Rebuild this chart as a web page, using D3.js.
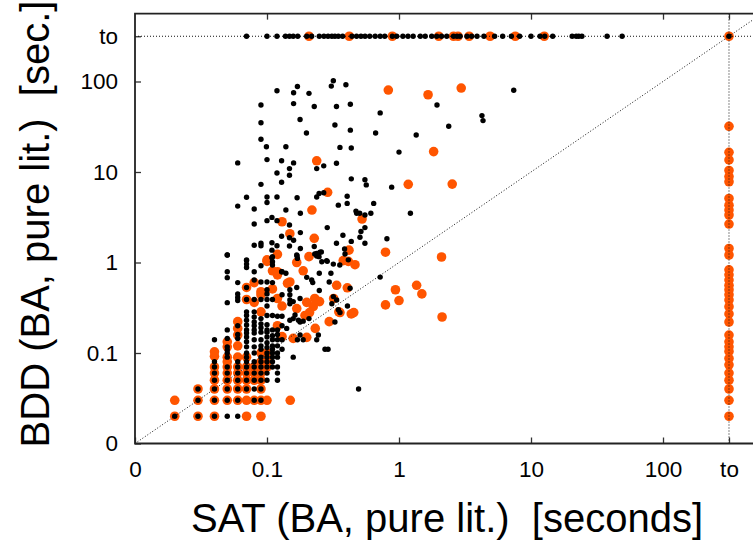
<!DOCTYPE html>
<html>
<head>
<meta charset="utf-8">
<script src="https://cdnjs.cloudflare.com/ajax/libs/d3/7.8.5/d3.min.js"></script>
<style>
body { margin: 0; background: #fff; overflow: hidden; }
text { font-family: "Liberation Sans", Arial, sans-serif; fill: #000; white-space: pre; }
</style>
</head>
<body>
<div id="chart"></div>
<script>
// time-out is plotted at 10^2.5, "0" at 0.01
const timeout = 316.2;
const tickValues = [0.01, 0.1, 1, 10, 100, timeout];
const tickLabels = ['0', '0.1', '1', '10', '100', 'to'];

// solver times are rounded to 0.01s so the fast runs sit on a grid
const gridSat = [0.02, 0.03, 0.04, 0.05, 0.06, 0.07, 0.08, 0.09, 0.1, 0.11, 0.12, 0.13];
const gridBlackBdd = [
    [0.02],
    [0.02, 0.03, 0.04],
    [0.02, 0.03, 0.04, 0.05, 0.06, 0.07, 0.08, 0.14],
    [0.02, 0.03, 0.04, 0.05, 0.06, 0.07, 0.09, 0.1, 0.108, 0.117, 0.145, 0.18, 0.36, 0.68, 0.79, 1.21],
    [0.02, 0.03, 0.04, 0.05, 0.06, 0.07, 0.08, 0.145, 0.16, 0.2, 0.38, 0.41, 0.45, 0.6],
    [0.04, 0.05, 0.06, 0.07, 0.08, 0.09, 0.1, 0.117, 0.133, 0.15, 0.166, 0.18, 0.204, 0.23, 0.26, 0.285, 0.39, 0.53, 0.88, 0.96, 1.07],
    [0.03, 0.04, 0.05, 0.06, 0.07, 0.08, 0.1, 0.117, 0.14, 0.166, 0.18, 0.2, 0.22, 0.25, 0.285, 0.39, 0.64, 0.79],
    [0.03, 0.04, 0.05, 0.06, 0.07, 0.08, 0.09, 0.11, 0.12, 0.14, 0.17, 0.19, 0.21, 0.24, 0.39, 0.61, 0.92],
    [0.05, 0.06, 0.07, 0.08, 0.09, 0.1, 0.115, 0.13, 0.15, 0.17, 0.18, 0.205, 0.26, 0.33, 0.39, 0.45, 0.5, 0.61],
    [0.07, 0.08, 0.09, 0.1, 0.11, 0.12, 0.14, 0.155, 0.18, 0.26, 0.39, 0.6, 0.94, 1.02, 1.16],
    [0.05, 0.06, 0.07, 0.09, 0.1, 0.12, 0.14, 0.16, 0.18, 0.255],
    [0.11, 0.14, 0.2, 0.255, 0.44, 0.79]
];
const gridOrangeBdd = [
    [0.02, 0.03],
    [0.02, 0.03, 0.04],
    [0.02, 0.03, 0.04, 0.05, 0.06, 0.07, 0.092, 0.103],
    [0.03, 0.04, 0.05, 0.06, 0.07, 0.08, 0.09, 0.117, 0.133],
    [0.03, 0.04, 0.05, 0.06, 0.07, 0.09, 0.12, 0.158, 0.187, 0.222],
    [0.02, 0.03, 0.04, 0.05, 0.06, 0.07, 0.09, 0.39, 0.53],
    [0.03, 0.05, 0.06, 0.07, 0.363, 0.6],
    [0.02, 0.03, 0.04, 0.05, 0.06, 0.07, 0.08, 0.1, 0.285, 0.44, 0.475],
    [0.03, 0.07, 0.08, 0.1, 1.03, 1.07],
    [0.51, 0.81],
    [0.2, 0.4, 0.73, 0.79, 1.23],
    [0.152, 0.33, 2.82]
];

const blackPoints = [
    [0.318, 102], [0.17, 88], [0.307, 89], [0.396, 92], [0.119, 79], [0.159, 75], [0.208, 74], [0.09, 55], [0.159, 57],
    [0.228, 53], [0.336, 53], [0.428, 56], [0.72, 45], [0.09, 35], [0.178, 38], [0.327, 33], [0.199, 27], [0.428, 29],
    [0.665, 27], [0.09, 23], [0.099, 19], [0.139, 19], [0.357, 18.7], [0.435, 18.4], [1.0, 16.6], [0.06, 12.6],
    [0.1, 13.7], [0.129, 13.3], [0.159, 12.6], [0.336, 12.5], [0.238, 10.9], [0.269, 11.7], [0.148, 10.9], [0.119, 9.75],
    [0.148, 9.2], [0.129, 7.7], [0.09, 7.3], [0.435, 8.4], [0.552, 8.2], [0.565, 7.2], [0.88, 6.8], [0.07, 5.25],
    [0.1, 5.3], [0.119, 5.3], [0.169, 5.2], [0.238, 5.3], [0.248, 5.8], [0.269, 5.9], [0.405, 5.4], [0.1, 4.6],
    [0.06, 4.2], [0.08, 3.9], [0.139, 3.8], [0.405, 4.5], [0.347, 4.3], [0.643, 4.5], [0.179, 3.5], [0.472, 3.7],
    [0.478, 3.5], [0.504, 3.5], [0.552, 3.35], [0.612, 3.5], [0.109, 3.15], [0.1, 2.9], [0.119, 2.9], [0.08, 2.66],
    [0.148, 2.6], [0.286, 2.43], [0.552, 2.43], [0.515, 2.2], [0.179, 2.14], [0.129, 1.95], [0.376, 2.0], [0.148, 1.88],
    [0.159, 1.76], [0.506, 1.9], [0.81, 1.83], [0.08, 1.55], [0.09, 1.63], [0.09, 1.53], [0.109, 1.65], [0.119, 1.53],
    [0.148, 1.52], [0.179, 1.43], [0.228, 1.5], [0.336, 1.63], [0.435, 1.71], [0.552, 1.63], [0.387, 1.41], [0.05, 1.21],
    [0.109, 1.37], [0.258, 1.31], [0.238, 1.26], [0.248, 1.16], [0.169, 1.18], [0.109, 1.13], [0.286, 1.03], [0.07, 1.05],
    [7.4, 80], [1.94, 55], [4.25, 42], [4.33, 37], [2.38, 32], [1.35, 25.6], [1.22, 3.5], [0.72, 0.69], [0.426, 0.52],
    [0.407, 0.33], [0.494, 0.04], [0.357, 0.28], [0.139, 0.76], [0.129, 0.79], [0.168, 1.21], [0.17, 1.11], [0.23, 1.24],
    [0.238, 1.18], [0.252, 1.3], [0.26, 1.02], [0.283, 1.05], [0.318, 0.96], [0.356, 0.94], [0.39, 1.24], [0.413, 1.07],
    [0.2, 0.685], [0.218, 0.64], [0.222, 0.6], [0.249, 0.76], [0.305, 0.76], [0.296, 0.61], [0.249, 0.49], [0.168, 0.53],
    [0.149, 0.5], [0.149, 0.44], [0.149, 0.385], [0.158, 0.37], [0.178, 0.4], [0.149, 0.35], [0.318, 0.42], [0.337, 0.385],
    [0.327, 0.22], [0.275, 0.11], [0.29, 0.11], [0.158, 0.09], [0.17, 0.14], [0.188, 0.14], [0.178, 0.158], [0.163, 0.263],
    [0.158, 0.24], [0.173, 0.23], [0.149, 0.23], [0.178, 0.22], [0.188, 0.225], [0.208, 0.24], [0.245, 0.158], [0.238, 0.14],
    [0.141, 0.187], [0.347, 0.3], [0.31, 0.35]
];

const orangePoints = [
    [0.83, 80.5], [1.66, 71.4], [2.96, 84.7], [1.83, 16.8], [1.175, 7.3], [2.53, 7.35], [0.525, 3.02], [0.418, 1.37],
    [0.79, 1.3], [2.1, 1.15], [0.378, 1.05], [0.413, 1.03], [0.464, 0.946], [0.406, 0.525], [0.94, 0.5], [1.36, 0.56],
    [1.49, 0.45], [1.0, 0.38], [0.79, 0.34], [2.12, 0.25], [0.454, 0.28], [0.435, 0.27], [0.357, 0.28], [0.238, 13.3],
    [0.288, 5.97], [0.219, 3.8], [0.149, 2.08], [0.228, 1.85], [0.208, 1.16], [0.168, 1.0], [0.188, 0.81], [0.143, 0.59],
    [0.149, 0.61], [0.337, 0.56], [0.23, 0.4], [0.25, 0.37], [0.2, 0.363], [0.224, 0.325], [0.32, 0.4], [0.35, 0.285],
    [0.21, 0.28], [0.194, 0.26], [0.168, 0.31], [0.296, 0.222], [0.232, 0.187], [0.2, 0.149], [0.158, 0.145], [0.15, 0.03]
];

const timeoutSatBlack = [
    0.07, 0.1, 0.119, 0.138, 0.148, 0.158, 0.171, 0.2, 0.218, 0.249, 0.27, 0.29, 0.31, 0.327, 0.347, 0.374, 0.44, 0.477,
    0.515, 0.553, 0.6, 0.66, 0.72, 0.78, 0.89, 0.96, 1.07, 1.17, 1.28, 1.45, 1.58, 1.77, 1.93, 2.1, 2.3, 2.59, 2.75, 2.9,
    3.27, 3.55, 3.9, 4.4, 5.3, 6.1, 7.1, 8.2, 10, 11.7, 12.7, 14.6, 20.5, 22, 23, 24.3, 37.7, 49, timeout
];
const timeoutSatOrange = [0.208, 0.42, 0.89, 2.0, 2.59, 2.8, 3.4, 4.9, 7.6, 12.6, timeout];
const timeoutBddOrange = [
    32, 16.5, 13.6, 10.4, 8.9, 7.8, 5.1, 4.3, 3.8, 3.35, 2.66, 1.43, 1.21, 0.83, 0.73, 0.64, 0.56, 0.5, 0.44, 0.385,
    0.325, 0.27, 0.22, 0.158, 0.133, 0.117, 0.104, 0.087, 0.074, 0.06, 0.05, 0.04, 0.03, 0.02
];

const black = [
    ...gridSat.flatMap((s, i) => gridBlackBdd[i].map(b => [s, b])),
    ...blackPoints,
    ...timeoutSatBlack.map(s => [s, timeout])
];
const orange = [
    ...gridSat.flatMap((s, i) => gridOrangeBdd[i].map(b => [s, b])),
    ...orangePoints,
    ...timeoutSatOrange.map(s => [s, timeout]),
    ...timeoutBddOrange.map(b => [timeout, b])
];

const width = 753, height = 541;
const left = 135, bottom = 443.5;
const xDecade = 132, yDecade = 90.5;
const topValue = 562.3; // axis range ends a bit past the time-out line

const svg = d3.select('#chart').append('svg')
    .attr('width', width)
    .attr('height', height);

const xScale = d3.scaleLog()
    .domain([0.01, topValue])
    .range([left, left + xDecade * 4.75]);

const yScale = d3.scaleLog()
    .domain([0.01, topValue])
    .range([bottom, bottom - yDecade * 4.75]);

function styleAxis(g) {
    g.selectAll('.domain').remove();
    g.selectAll('line').attr('stroke', '#333').attr('stroke-width', 1.3);
    g.selectAll('text').attr('font-size', 22.5).attr('fill', '#000');
}

const fmt = (d, i) => tickLabels[i];

svg.append('g')
    .attr('transform', `translate(0, ${bottom})`)
    .call(d3.axisBottom(xScale).tickValues(tickValues).tickFormat(fmt).tickSize(-6).tickPadding(18))
    .call(styleAxis);

svg.append('g')
    .attr('transform', `translate(${left}, 0)`)
    .call(d3.axisLeft(yScale).tickValues(tickValues).tickFormat(fmt).tickSize(-6).tickPadding(17))
    .call(styleAxis);

svg.append('g')
    .attr('transform', `translate(0, ${yScale(topValue)})`)
    .call(d3.axisTop(xScale).tickValues(tickValues.slice(1)).tickFormat('').tickSize(-6))
    .call(styleAxis);

svg.append('g').selectAll('circle')
    .data(orange)
    .join('circle')
    .attr('cx', d => xScale(d[0]))
    .attr('cy', d => yScale(d[1]))
    .attr('r', 4.8)
    .attr('fill', '#ff5500');

const refLines = [
    [[0.01, 0.01], [topValue, topValue]],
    [[0.01, timeout], [topValue, timeout]],
    [[timeout, 0.01], [timeout, topValue]]
];

svg.append('g').selectAll('line')
    .data(refLines)
    .join('line')
    .attr('x1', d => xScale(d[0][0]))
    .attr('y1', d => yScale(d[0][1]))
    .attr('x2', d => xScale(d[1][0]))
    .attr('y2', d => yScale(d[1][1]))
    .attr('stroke', '#111')
    .attr('stroke-width', 1)
    .attr('stroke-dasharray', '1,2');

svg.append('g').selectAll('circle')
    .data(black)
    .join('circle')
    .attr('cx', d => xScale(d[0]))
    .attr('cy', d => yScale(d[1]))
    .attr('r', 2.7)
    .attr('fill', '#000');

// frame goes on top, only left, bottom and top fall inside the window
svg.append('path')
    .attr('d', `M${width},${yScale(topValue)}H${left}V${bottom}H${width}`)
    .attr('fill', 'none')
    .attr('stroke', '#222')
    .attr('stroke-width', 1.8);

svg.append('text')
    .attr('x', 447)
    .attr('y', 532)
    .attr('text-anchor', 'middle')
    .attr('font-size', 40)
    .text('SAT (BA, pure lit.)  [seconds]');

svg.append('text')
    .attr('transform', 'translate(49, 224) rotate(-90)')
    .attr('text-anchor', 'middle')
    .attr('font-size', 40)
    .text('BDD (BA, pure lit.)  [sec.]');
</script>
</body>
</html>
